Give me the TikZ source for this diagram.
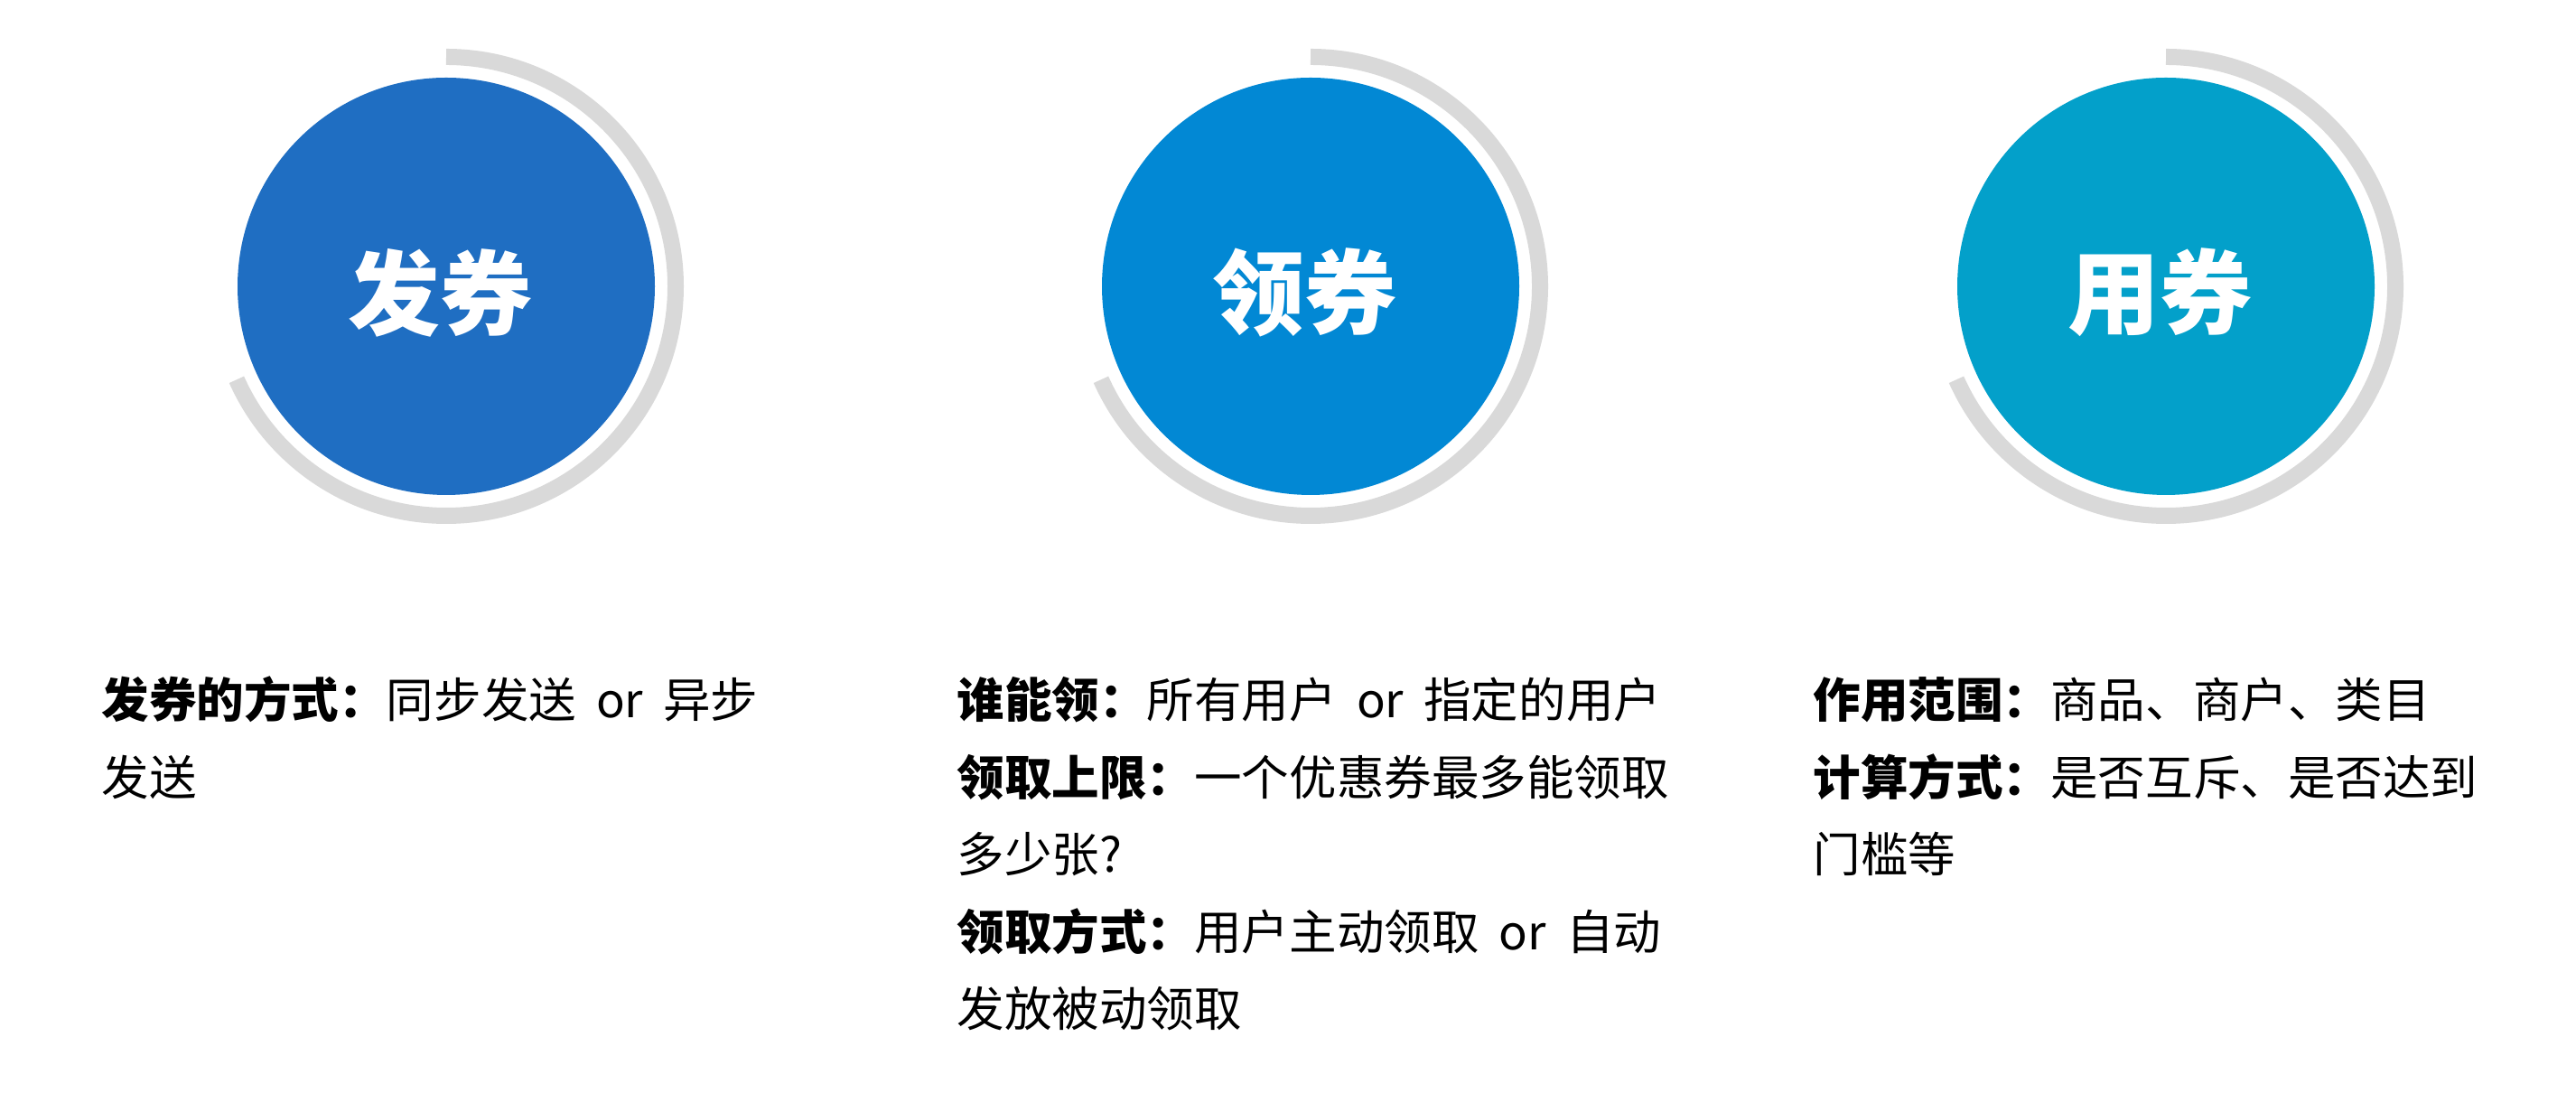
\documentclass[tikz,border=0pt]{standalone}
\usepackage{fontspec}
\setmainfont{Noto Sans CJK SC}
\definecolor{faquan}{HTML}{1F6EC2}
\definecolor{lingquan}{HTML}{0288D4}
\definecolor{yongquan}{HTML}{03A0CA}
\definecolor{ringgray}{HTML}{D9D9D9}
\newcommand{\orsep}{\hspace{0.42em}or\hspace{0.42em}}
\tikzset{
  badge/.style={circle, minimum size=4.62cm, inner sep=0pt},
  badgetext/.style={text=white, font=\fontsize{29pt}{29pt}\selectfont\bfseries},
  ring/.style={draw=ringgray, line width=0.18cm},
  textline/.style={anchor=base west, inner sep=0pt, font=\fontsize{14.95pt}{24pt}\selectfont}
}
\begin{document}
\begin{tikzpicture}
  \useasboundingbox (0,0) rectangle (28.52,12.10);
  % Circles
  \node[badge, fill=faquan] (fa) at (4.94,8.93) {};
  \node[badge, fill=lingquan] (ling) at (14.51,8.93) {};
  \node[badge, fill=yongquan] (yong) at (23.98,8.93) {};
  % Gray arcs
  \draw[ring] (fa.center) ++(90:2.54) arc[start angle=90, end angle=-156, radius=2.54];
  \draw[ring] (ling.center) ++(90:2.54) arc[start angle=90, end angle=-156, radius=2.54];
  \draw[ring] (yong.center) ++(90:2.54) arc[start angle=90, end angle=-156, radius=2.54];
  % Titles
  \node[badgetext] (fa-t) at ([xshift=-0.07cm, yshift=-0.07cm]fa.center) {发券};
  \node[badgetext] (ling-t) at ([xshift=-0.07cm, yshift=-0.07cm]ling.center) {领券};
  \node[badgetext] (yong-t) at ([xshift=-0.07cm, yshift=-0.07cm]yong.center) {用券};
  % Left column
  \node[textline] (fa-1) at (1.12,4.15) {\textbf{发券的方式：}同步发送\orsep 异步};
  \node[textline] (fa-2) at (1.12,3.295) {发送};
  % Middle column
  \node[textline] (ling-1) at (10.59,4.15) {\textbf{谁能领：}所有用户\orsep 指定的用户};
  \node[textline] (ling-2) at (10.59,3.295) {\textbf{领取上限：}一个优惠券最多能领取};
  \node[textline] (ling-3) at (10.59,2.44) {多少张?};
  \node[textline] (ling-4) at (10.59,1.585) {\textbf{领取方式：}用户主动领取\orsep 自动};
  \node[textline] (ling-5) at (10.59,0.73) {发放被动领取};
  % Right column
  \node[textline] (yong-1) at (20.07,4.15) {\textbf{作用范围：}商品、商户、类目};
  \node[textline] (yong-2) at (20.07,3.295) {\textbf{计算方式：}是否互斥、是否达到};
  \node[textline] (yong-3) at (20.07,2.44) {门槛等};
\end{tikzpicture}
\end{document}
